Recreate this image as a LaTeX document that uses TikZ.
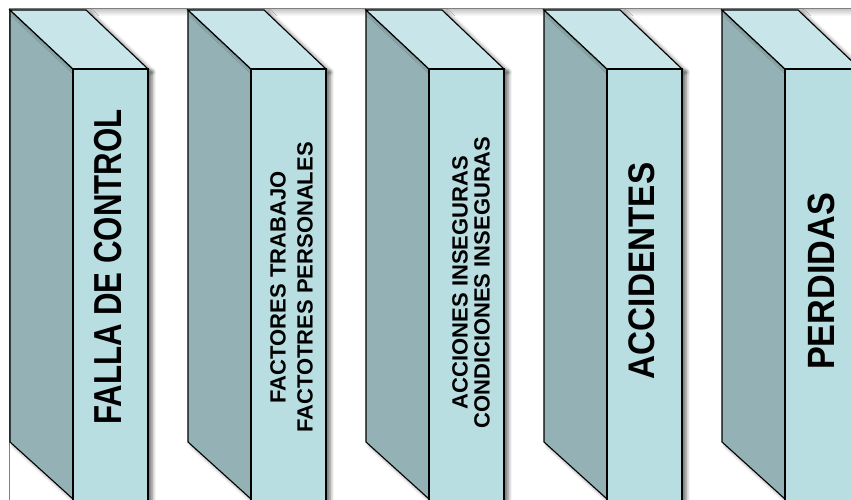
\documentclass[tikz,border=0pt]{standalone}
\usepackage{fontspec}
\setmainfont{Liberation Sans}
\usetikzlibrary{shadows.blur}
\definecolor{frontcol}{RGB}{185,222,226}
\definecolor{topcol}{RGB}{200,230,233}
\definecolor{sidecol}{RGB}{148,178,181}
\begin{document}
\begin{tikzpicture}[x=1pt,y=-1pt,
  faceline/.style={draw=black,line width=1.1pt,line join=miter},
  blockshadow/.style={blur shadow={shadow xshift=4pt,shadow yshift=-3pt,shadow blur radius=4pt,shadow opacity=60}},
  sideface/.style={faceline,fill=sidecol,blockshadow},
  topface/.style={faceline,fill=topcol,blockshadow},
  frontface/.style={faceline,fill=frontcol,blockshadow},
  blocktext/.style={rotate=90,text=black,align=center,inner sep=0pt}]

%fix picture size
\useasboundingbox (0,0) rectangle (851,500);
\clip (0,0) rectangle (851,500);

%draw frame
\shade[top color=black!22,bottom color=white] (10,9) rectangle (851,16);
\draw[gray,line width=0.9pt] (9.5,510) -- (9.5,8.5) -- (860,8.5);

%draw the dominoes
\foreach \x in {10,188,366,544,722}
	{
	\filldraw[sideface] (\x,10) -- (\x+63,69) -- (\x+63,499) -- (\x,442) -- cycle;
	\filldraw[topface] (\x,10) -- (\x+76,10) -- (\x+138,69) -- (\x+63,69) -- cycle;
	\filldraw[frontface] (\x+63,69) rectangle (\x+138,506);
	}

%label the dominoes
\node[blocktext,font=\bfseries\fontsize{39}{39}\selectfont] (falla) at (108,267) {\scalebox{0.8}[1]{FALLA DE CONTROL}};
\node[blocktext,font=\bfseries\fontsize{22}{27}\selectfont] (factores) at (291.5,287.5) {FACTORES TRABAJO\\FACTOTRES PERSONALES};
\node[blocktext,font=\bfseries\fontsize{22}{22}\selectfont] (acciones) at (471,282.5) {ACCIONES INSEGURAS\\CONDICIONES INSEGURAS};
\node[blocktext,font=\bfseries\fontsize{37}{37}\selectfont] (accidentes) at (641.5,271) {\scalebox{0.9}[1]{ACCIDENTES}};
\node[blocktext,font=\bfseries\fontsize{38}{38}\selectfont] (perdidas) at (821,281.5) {\scalebox{0.9}[1]{PERDIDAS}};

\end{tikzpicture}
\end{document}
